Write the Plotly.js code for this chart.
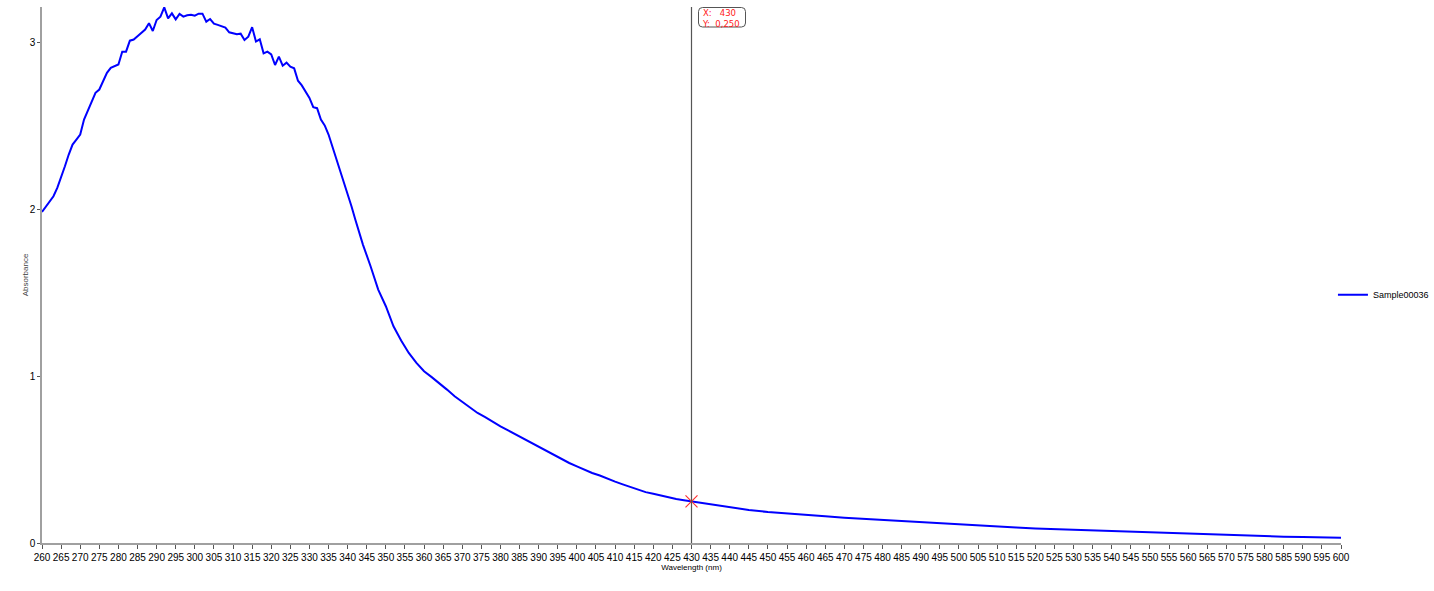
<!DOCTYPE html>
<html>
<head>
<meta charset="utf-8">
<script src="https://cdn.plot.ly/plotly-3.0.1.min.js"></script>
<style>html,body{margin:0;padding:0;background:#fff;}#chart{width:1434px;height:591px;}</style>
</head>
<body>
<div id="chart"></div>
<script>
const seriesName = "Sample00036";
const wavelength = [
260,261,262,263,264,265,266,267,268,269,270,271,272,273,274,275,276,277,278,279,
280,281,282,283,284,285,286,287,288,289,290,291,292,293,294,295,296,297,298,299,
300,301,302,303,304,305,306,307,308,309,310,311,312,313,314,315,316,317,318,319,
320,321,322,323,324,325,326,327,328,329,330,331,332,333,334,335,336,337,338,339,
340,341,342,344,346,348,350,352,354,356,358,360,362,364,366,368,370,372,374,376,
378,380,382,384,386,388,390,392,394,396,398,400,402,404,406,408,410,412,414,416,
418,420,422,424,426,428,430,435,440,445,450,455,460,465,470,475,480,485,490,495,
500,505,510,515,520,525,530,535,540,545,550,555,560,565,570,575,580,585,590,595,600
];
const absorbance = [
1.986,2.02,2.05,2.08,2.13,2.19,2.26,2.33,2.39,2.42,2.45,2.54,2.59,2.64,2.70,2.72,2.77,2.82,2.85,2.86,
2.87,2.947,2.947,3.013,3.02,3.04,3.06,3.08,3.118,3.071,3.137,3.157,3.213,3.147,3.177,3.141,3.173,3.157,3.165,3.169,
3.163,3.175,3.175,3.127,3.143,3.115,3.108,3.10,3.092,3.063,3.055,3.051,3.055,3.017,3.037,3.094,3.008,3.021,2.937,2.947,
2.931,2.867,2.917,2.863,2.881,2.857,2.847,2.773,2.745,2.71,2.67,2.614,2.608,2.54,2.505,2.45,2.38,2.30,2.23,2.16,
2.09,2.02,1.94,1.79,1.66,1.52,1.42,1.30,1.215,1.14,1.08,1.03,0.995,0.96,0.92,0.88,0.845,0.81,0.78,0.755,
0.725,0.70,0.675,0.65,0.625,0.60,0.575,0.55,0.525,0.505,0.48,0.46,0.44,0.42,0.405,0.385,0.368,0.352,0.336,0.322,
0.305,0.295,0.284,0.272,0.264,0.257,0.250,0.230,0.212,0.198,0.186,0.176,0.166,0.160,0.152,0.145,0.138,0.132,0.126,0.120,
0.114,0.104,0.098,0.093,0.087,0.083,0.079,0.075,0.071,0.067,0.063,0.059,0.055,0.051,0.047,0.044,0.041,0.038,0.036,0.033,0.031
];
const cursorX = [430];
const cursorY = [0.250];
const xTickVals = [];
for (let v = 260; v <= 600; v += 5) xTickVals.push(v);
const yTickVals = [0, 1, 2, 3];
const xTitle = "Wavelength (nm)";
const yTitle = "Absorbance";

const font = "'Liberation Sans', Arial, sans-serif";

const traces = [
  {
    x: wavelength, y: absorbance, type: "scatter", mode: "lines",
    name: seriesName, line: {color: "#0000ff", width: 2}, hoverinfo: "x+y"
  },
  {
    x: cursorX, y: cursorY, type: "scatter", mode: "markers",
    showlegend: false,
    marker: {symbol: "x-thin", size: 12, line: {color: "#ff3030", width: 1.2}, color: "#ff3030"}
  }
];

const layout = {
  width: 1434, height: 591,
  margin: {l: 42, r: 93, t: 7, b: 48, autoexpand: false},
  paper_bgcolor: "#ffffff", plot_bgcolor: "#ffffff",
  font: {family: font, size: 10, color: "#000"},
  showlegend: true,
  legend: {x: 0.9938, xanchor: "left", y: 0.463, yanchor: "middle",
           font: {family: font, size: 9, color: "#000"}, bgcolor: "rgba(0,0,0,0)",
           itemwidth: 30, tracegroupgap: 0},
  xaxis: {
    range: [260, 600], tickmode: "array", tickvals: xTickVals, tickangle: 0,
    showgrid: false, zeroline: false, showline: true, linecolor: "#a0a0a0", linewidth: 1.5,
    ticks: "outside", ticklen: 4, tickcolor: "#555", tickwidth: 1,
    tickfont: {family: font, size: 10, color: "#000"}, automargin: false,
    title: {text: xTitle, font: {family: font, size: 8, color: "#000"}, standoff: 2}
  },
  yaxis: {
    range: [0, 3.215], tickmode: "array", tickvals: yTickVals,
    showgrid: false, zeroline: false, showline: true, linecolor: "#a0a0a0", linewidth: 1.5,
    ticks: "outside", ticklen: 3, tickcolor: "#555", tickwidth: 1,
    tickfont: {family: font, size: 10, color: "#000"}, automargin: false,
    title: {text: yTitle, font: {family: font, size: 8, color: "#444"}, standoff: 0}
  },
  shapes: [
    {type: "line", xref: "x", yref: "paper", x0: cursorX[0], x1: cursorX[0], y0: 0, y1: 1,
     line: {color: "#555555", width: 1.2}},
    {type: "path", xref: "x", yref: "paper", xsizemode: "pixel", ysizemode: "pixel",
     xanchor: cursorX[0], yanchor: 1,
     path: "M 11,-0.5 L 50,-0.5 Q 54,-0.5 54,-4.5 L 54,-16 Q 54,-20 50,-20 L 11,-20 Q 7,-20 7,-16 L 7,-4.5 Q 7,-0.5 11,-0.5 Z",
     line: {color: "#555555", width: 1}, fillcolor: "rgba(255,255,255,1)"}
  ],
  annotations: [
    {xref: "x", yref: "paper", x: cursorX[0], y: 1, xanchor: "left", yanchor: "top",
     xshift: 9, yshift: 0, align: "left", showarrow: false,
     text: "X:\u00a0\u00a0\u00a0" + cursorX[0] + "<br>Y:\u00a0\u00a0" + cursorY[0].toFixed(3).replace(".", ","),
     font: {family: "'DejaVu Sans', sans-serif", size: 8.5, color: "#ff2020"},
     borderpad: 0}
  ]
};

Plotly.newPlot("chart", traces, layout, {displayModeBar: false, responsive: false});
</script>
</body>
</html>
